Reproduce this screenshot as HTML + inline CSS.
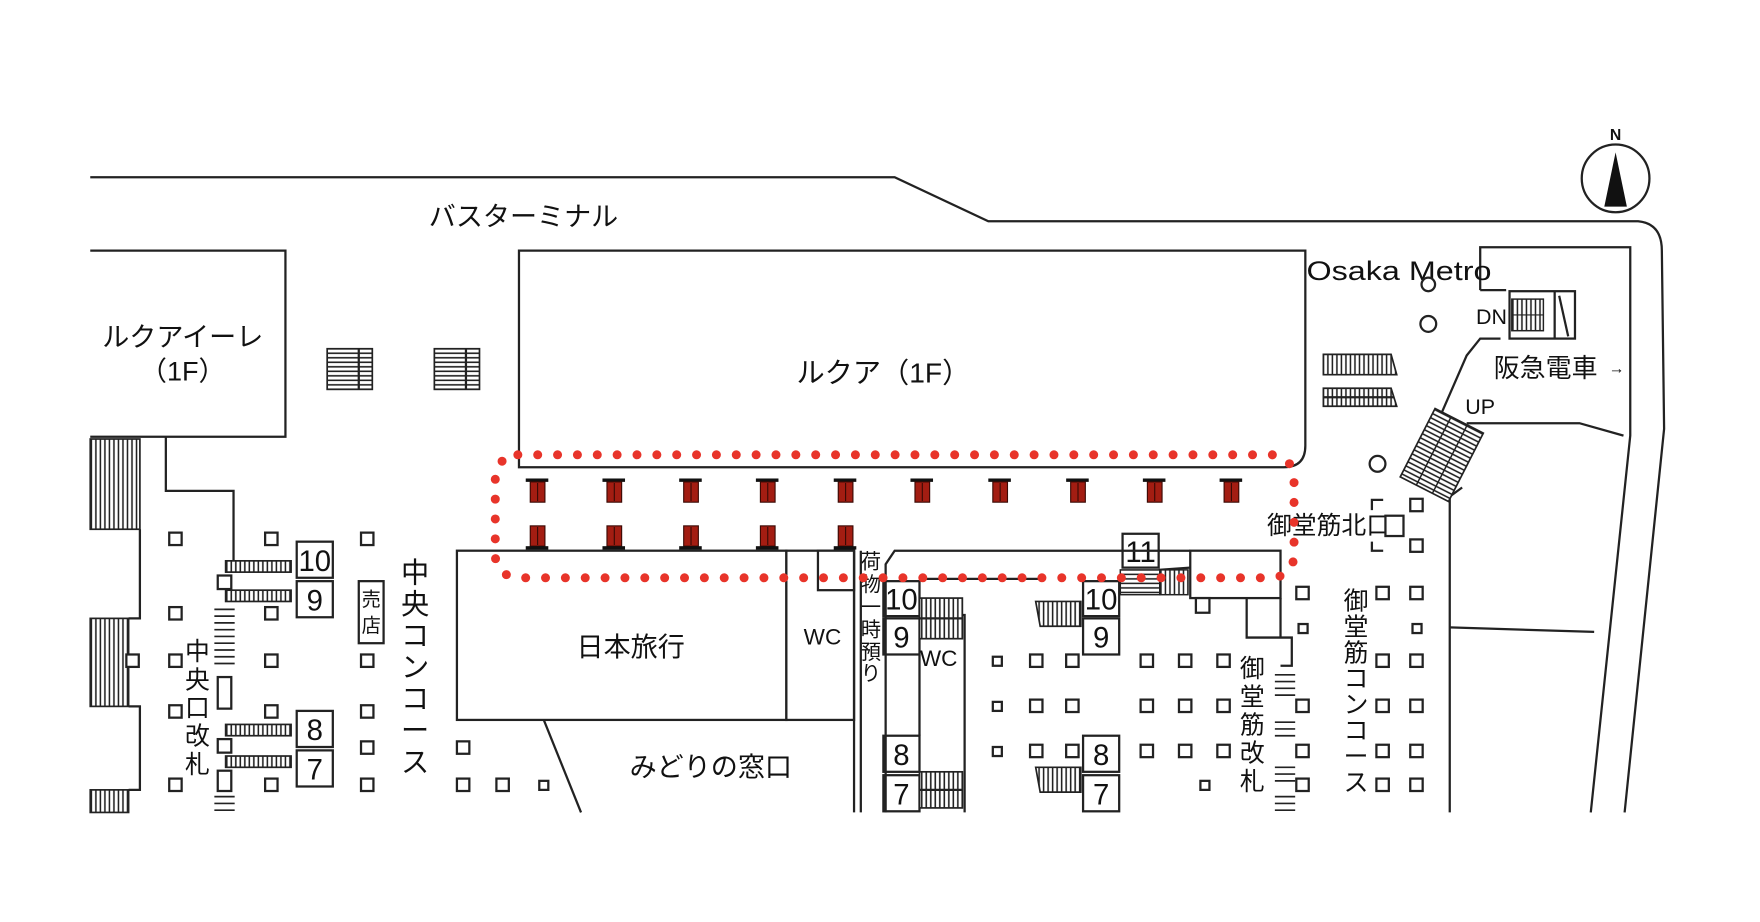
<!DOCTYPE html>
<html><head><meta charset="utf-8"><style>
html,body{margin:0;padding:0;background:#fff;}
svg{display:block}
text{font-family:"Liberation Sans","Noto Sans CJK JP",sans-serif;fill:#111}
.l{fill:none;stroke:#222;stroke-width:2}
.s{fill:#fff;stroke:#222;stroke-width:2}
.p{fill:#a31d12;stroke:#3a0a05;stroke-width:1}
.h{stroke:#222;stroke-width:1.3}
</style></head><body>
<svg width="1760" height="922" viewBox="0 0 1560 817" xmlns="http://www.w3.org/2000/svg">
<defs>
<pattern id="vs" width="4" height="4" patternUnits="userSpaceOnUse"><rect width="4" height="4" fill="#fff"/><line x1="1" y1="0" x2="1" y2="4" stroke="#222" stroke-width="1.4"/></pattern>
<pattern id="hs" width="4" height="4" patternUnits="userSpaceOnUse"><rect width="4" height="4" fill="#fff"/><line x1="0" y1="1" x2="4" y2="1" stroke="#222" stroke-width="1.4"/></pattern>
<g id="sq"><rect x="0" y="0" width="11" height="11" class="s"/></g>
<g id="ss"><rect x="0" y="0" width="8" height="8" class="s"/></g>
<g id="pil"><rect x="-4" y="0" width="20" height="3" fill="#111"/><rect x="0" y="3" width="13" height="18" class="p"/><line x1="6.5" y1="4" x2="6.5" y2="20" stroke="#3a0a05"/></g>
<g id="pil2"><rect x="0" y="0" width="13" height="18" class="p"/><line x1="6.5" y1="1" x2="6.5" y2="17" stroke="#3a0a05"/><rect x="-4" y="18" width="20" height="3" fill="#111"/></g>
<g id="hst"><rect x="0" y="0" width="58" height="10" fill="url(#vs)" stroke="#222" stroke-width="1.5"/></g>
</defs>

<path class="l" d="M80 157 L793 157 L876 196 L1452 196 Q1473 198 1473 222 L1475 380 L1440 720"/>
<path class="l" d="M1312 257 L1312 219 L1445 219 L1445 386 L1410 720"/>
<path class="l" d="M1300 375 L1400 375 L1439 386"/>
<path class="l" d="M1285 556 L1413 560"/>
<path class="l" d="M1312 257 L1335 257"/>
<path class="l" d="M1330 300 L1312 300 L1300 315 L1276 370"/>
<path class="l" d="M1296 432 L1285 440 L1285 720"/>

<circle cx="1432" cy="158" r="30" class="s" stroke-width="2.5"/>
<polygon points="1432,135 1422,183 1442,183" fill="#111"/>
<text x="1432" y="124" font-size="14" text-anchor="middle" font-weight="bold">N</text>

<path class="l" d="M80 222 L253 222 L253 387 L80 387"/>
<text x="162" y="307" font-size="24" text-anchor="middle">ルクアイーレ</text>
<text x="162" y="337" font-size="24" text-anchor="middle">（1F）</text>
<path class="l" d="M460 222 L1157 222 L1157 395 Q1157 414 1138 414 L460 414 Z"/>
<text x="783" y="339" font-size="25" text-anchor="middle">ルクア（1F）</text>
<text x="464" y="200" font-size="24" text-anchor="middle">バスターミナル</text>
<text x="1158" y="248" font-size="24" textLength="164" lengthAdjust="spacingAndGlyphs">Osaka Metro</text>

<path class="l" d="M147 387 L147 435 L207 435 L207 500"/>
<rect x="80" y="389" width="44" height="80" fill="url(#vs)" stroke="#222" stroke-width="1.5"/>
<rect x="80" y="548" width="34" height="78" fill="url(#vs)" stroke="#222" stroke-width="1.5"/>
<rect x="80" y="700" width="34" height="20" fill="url(#vs)" stroke="#222" stroke-width="1.5"/>
<path class="l" d="M124 469 L124 548 L114 548"/>
<path class="l" d="M114 626 L124 626 L124 700 L114 700"/>

<rect x="290" y="309" width="40" height="36" fill="url(#hs)" stroke="#222" stroke-width="1.5"/>
<rect x="385" y="309" width="40" height="36" fill="url(#hs)" stroke="#222" stroke-width="1.5"/>
<line x1="318" y1="309" x2="318" y2="345" class="l"/><line x1="413" y1="309" x2="413" y2="345" class="l"/>

<use href="#hst" x="200" y="497"/><use href="#hst" x="200" y="523"/>
<use href="#hst" x="200" y="642"/><use href="#hst" x="200" y="670"/>
<rect x="193" y="510" width="12" height="12" class="s"/>
<rect x="193" y="655" width="12" height="12" class="s"/>
<rect x="193" y="683" width="12" height="18" class="s"/>
<rect x="193" y="600" width="12" height="28" class="s"/>
<g stroke="#222" stroke-width="1.5">
<line x1="190" y1="540" x2="208" y2="540"/><line x1="190" y1="546" x2="208" y2="546"/><line x1="190" y1="552" x2="208" y2="552"/><line x1="190" y1="558" x2="208" y2="558"/><line x1="190" y1="564" x2="208" y2="564"/><line x1="190" y1="570" x2="208" y2="570"/><line x1="190" y1="576" x2="208" y2="576"/><line x1="190" y1="582" x2="208" y2="582"/><line x1="190" y1="588" x2="208" y2="588"/>
<line x1="190" y1="706" x2="208" y2="706"/><line x1="190" y1="712" x2="208" y2="712"/><line x1="190" y1="718" x2="208" y2="718"/>
</g>

<g font-size="26" text-anchor="middle">
<rect x="263" y="480" width="32" height="32" class="s"/><text x="279" y="506">10</text>
<rect x="263" y="515" width="32" height="32" class="s"/><text x="279" y="541">9</text>
<rect x="263" y="630" width="32" height="32" class="s"/><text x="279" y="656">8</text>
<rect x="263" y="665" width="32" height="32" class="s"/><text x="279" y="691">7</text>
<rect x="783" y="515" width="32" height="31" class="s"/><text x="799" y="540">10</text>
<rect x="783" y="548" width="32" height="32" class="s"/><text x="799" y="574">9</text>
<rect x="783" y="652" width="32" height="32" class="s"/><text x="799" y="678">8</text>
<rect x="783" y="687" width="32" height="32" class="s"/><text x="799" y="713">7</text>
<rect x="960" y="515" width="32" height="31" class="s"/><text x="976" y="540">10</text>
<rect x="960" y="548" width="32" height="32" class="s"/><text x="976" y="574">9</text>
<rect x="960" y="652" width="32" height="32" class="s"/><text x="976" y="678">8</text>
<rect x="960" y="687" width="32" height="32" class="s"/><text x="976" y="713">7</text>
<rect x="995" y="473" width="32" height="30" class="s"/><text x="1011" y="498">11</text>
</g>

<rect x="318" y="515" width="22" height="55" class="s"/>
<text x="329" y="537" font-size="17" text-anchor="middle">売</text>
<text x="329" y="560" font-size="17" text-anchor="middle">店</text>

<g font-size="25" text-anchor="middle">
<text x="368" y="516">中</text><text x="368" y="544">央</text><text x="368" y="572">コ</text><text x="368" y="600">ン</text><text x="368" y="628">コ</text><text x="368" y="656">ー</text><text x="368" y="684">ス</text>
</g>
<g font-size="22" text-anchor="middle">
<text x="175" y="585">中</text><text x="175" y="610">央</text><text x="175" y="635">口</text><text x="175" y="660">改</text><text x="175" y="685">札</text>
<text x="1110" y="600">御</text><text x="1110" y="625">堂</text><text x="1110" y="650">筋</text><text x="1110" y="675">改</text><text x="1110" y="700">札</text>
<text x="1202" y="540">御</text><text x="1202" y="563">堂</text><text x="1202" y="586">筋</text><text x="1202" y="609">コ</text><text x="1202" y="632">ン</text><text x="1202" y="655">コ</text><text x="1202" y="678">ー</text><text x="1202" y="701">ス</text>
</g>
<g font-size="18" text-anchor="middle">
<text x="772" y="504">荷</text><text x="772" y="524">物</text><text x="772" y="544">一</text><text x="772" y="564">時</text><text x="772" y="584">預</text><text x="772" y="603">り</text>
</g>

<rect x="405" y="488" width="292" height="150" class="s"/>
<rect x="697" y="488" width="60" height="150" class="s"/>
<rect x="725" y="488" width="32" height="35" class="s"/>
<text x="559" y="582" font-size="24" text-anchor="middle">日本旅行</text>
<text x="729" y="571" font-size="20" text-anchor="middle">WC</text>
<path class="l" d="M482 638 L515 720"/>
<path class="l" d="M757 488 L757 720 M763 488 L763 720"/>
<text x="630" y="688" font-size="24" text-anchor="middle">みどりの窓口</text>

<path class="l" d="M785 720 L785 500 L793 488 L1055 488"/>
<path class="l" d="M815 513 L920 513 M1027 505 L1055 503"/>
<rect x="1055" y="488" width="80" height="42" class="s"/>
<rect x="1060" y="530" width="12" height="13" class="s"/>
<path class="l" d="M1105 530 L1105 565 L1135 565 L1135 530 M1135 565 L1145 565 L1145 590 L1135 590"/>
<path class="l" d="M815 545 L855 545 L855 720 M815 580 L815 652"/>
<text x="832" y="590" font-size="20" text-anchor="middle">WC</text>
<rect x="815" y="530" width="38" height="36" fill="url(#vs)" stroke="#222" stroke-width="1.5"/>
<line x1="815" y1="548" x2="853" y2="548" class="l"/>
<rect x="815" y="684" width="38" height="32" fill="url(#vs)" stroke="#222" stroke-width="1.5"/>
<line x1="815" y1="700" x2="853" y2="700" class="l"/>
<polygon points="918,533 958,533 958,555 922,555" fill="url(#vs)" stroke="#222" stroke-width="1.5"/>
<polygon points="918,680 958,680 958,702 922,702" fill="url(#vs)" stroke="#222" stroke-width="1.5"/>
<rect x="993" y="505" width="35" height="22" fill="url(#hs)" stroke="#222" stroke-width="1.3"/>
<rect x="1028" y="505" width="25" height="22" fill="url(#vs)" stroke="#222" stroke-width="1.3"/>
<g stroke="#222" stroke-width="1.5">
<line x1="1130" y1="598" x2="1148" y2="598"/><line x1="1130" y1="604" x2="1148" y2="604"/><line x1="1130" y1="610" x2="1148" y2="610"/><line x1="1130" y1="616" x2="1148" y2="616"/>
<line x1="1130" y1="640" x2="1148" y2="640"/><line x1="1130" y1="646" x2="1148" y2="646"/><line x1="1130" y1="652" x2="1148" y2="652"/>
<line x1="1130" y1="680" x2="1148" y2="680"/><line x1="1130" y1="686" x2="1148" y2="686"/><line x1="1130" y1="692" x2="1148" y2="692"/>
<line x1="1130" y1="706" x2="1148" y2="706"/><line x1="1130" y1="712" x2="1148" y2="712"/><line x1="1130" y1="718" x2="1148" y2="718"/>
</g>

<polygon points="1173,314 1233,314 1238,332 1173,332" fill="url(#vs)" stroke="#222" stroke-width="1.5"/>
<polygon points="1173,344 1233,344 1238,360 1173,360" fill="url(#vs)" stroke="#222" stroke-width="1.5"/>
<line x1="1173" y1="352" x2="1236" y2="352" class="l"/>
<rect x="1338" y="258" width="58" height="42" class="s"/>
<rect x="1340" y="265" width="28" height="28" fill="url(#vs)" stroke="#222" stroke-width="1.3"/>
<line x1="1340" y1="279" x2="1368" y2="279" stroke="#222"/>
<path class="l" d="M1378 258 L1378 300 M1382 262 L1390 298"/>
<text x="1322" y="287" font-size="19" text-anchor="middle" fill="#333">DN</text>
<text x="1312" y="367" font-size="19" text-anchor="middle" fill="#333">UP</text>
<text x="1370" y="334" font-size="23" text-anchor="middle">阪急電車</text>
<text x="1433" y="331" font-size="14" text-anchor="middle">→</text>
<g transform="translate(1272,362) rotate(27)">
<rect x="0" y="0" width="48" height="68" fill="url(#hs)" stroke="#222" stroke-width="1.5"/>
<line x1="16" y1="0" x2="16" y2="68" class="h"/><line x1="32" y1="0" x2="32" y2="68" class="h"/>
</g>
<circle cx="1266" cy="252" r="6" class="s"/>
<circle cx="1266" cy="287" r="7" class="s"/>
<circle cx="1221" cy="411" r="7" class="s"/>
<text x="1178" y="473" font-size="22" text-anchor="middle">御堂筋北口</text>
<path class="l" d="M1216 452 L1216 443 L1226 443 M1216 480 L1216 488 L1226 488"/>

<use href="#sq" x="150" y="472"/><use href="#sq" x="235" y="472"/><use href="#sq" x="320" y="472"/>
<use href="#sq" x="150" y="538"/><use href="#sq" x="235" y="538"/>
<use href="#sq" x="112" y="580"/><use href="#sq" x="150" y="580"/><use href="#sq" x="235" y="580"/><use href="#sq" x="320" y="580"/>
<use href="#sq" x="150" y="625"/><use href="#sq" x="235" y="625"/><use href="#sq" x="320" y="625"/>
<use href="#sq" x="320" y="657"/>
<use href="#sq" x="150" y="690"/><use href="#sq" x="235" y="690"/><use href="#sq" x="320" y="690"/>
<use href="#sq" x="405" y="657"/><use href="#sq" x="405" y="690"/><use href="#sq" x="440" y="690"/><use href="#ss" x="478" y="692"/>
<use href="#ss" x="880" y="582"/><use href="#sq" x="913" y="580"/><use href="#sq" x="945" y="580"/>
<use href="#ss" x="880" y="622"/><use href="#sq" x="913" y="620"/><use href="#sq" x="945" y="620"/>
<use href="#ss" x="880" y="662"/><use href="#sq" x="913" y="660"/><use href="#sq" x="945" y="660"/>
<use href="#sq" x="1011" y="580"/><use href="#sq" x="1045" y="580"/><use href="#sq" x="1079" y="580"/>
<use href="#sq" x="1011" y="620"/><use href="#sq" x="1045" y="620"/><use href="#sq" x="1079" y="620"/>
<use href="#sq" x="1011" y="660"/><use href="#sq" x="1045" y="660"/><use href="#sq" x="1079" y="660"/>
<use href="#ss" x="1064" y="692"/>
<use href="#sq" x="1149" y="520"/><use href="#ss" x="1151" y="553"/><use href="#sq" x="1149" y="620"/><use href="#sq" x="1149" y="660"/><use href="#sq" x="1149" y="690"/>
<use href="#sq" x="1250" y="442"/><use href="#sq" x="1250" y="478"/><use href="#sq" x="1250" y="520"/><use href="#ss" x="1252" y="553"/><use href="#sq" x="1250" y="580"/><use href="#sq" x="1250" y="620"/><use href="#sq" x="1250" y="660"/><use href="#sq" x="1250" y="690"/>
<use href="#sq" x="1220" y="520"/><use href="#sq" x="1220" y="580"/><use href="#sq" x="1220" y="620"/><use href="#sq" x="1220" y="660"/><use href="#sq" x="1220" y="690"/>
<rect x="1228" y="457" width="16" height="18" class="s"/>

<g>
<use href="#pil" x="470" y="424"/><use href="#pil" x="538" y="424"/><use href="#pil" x="606" y="424"/><use href="#pil" x="674" y="424"/><use href="#pil" x="743" y="424"/><use href="#pil" x="811" y="424"/><use href="#pil" x="880" y="424"/><use href="#pil" x="949" y="424"/><use href="#pil" x="1017" y="424"/><use href="#pil" x="1085" y="424"/>
<use href="#pil2" x="470" y="466"/><use href="#pil2" x="538" y="466"/><use href="#pil2" x="606" y="466"/><use href="#pil2" x="674" y="466"/><use href="#pil2" x="743" y="466"/>
</g>

<rect x="439" y="403" width="708" height="109" rx="20" fill="none" stroke="#e8342a" stroke-width="8" stroke-linecap="round" stroke-dasharray="0 17.6"/>
</svg>
</body></html>
